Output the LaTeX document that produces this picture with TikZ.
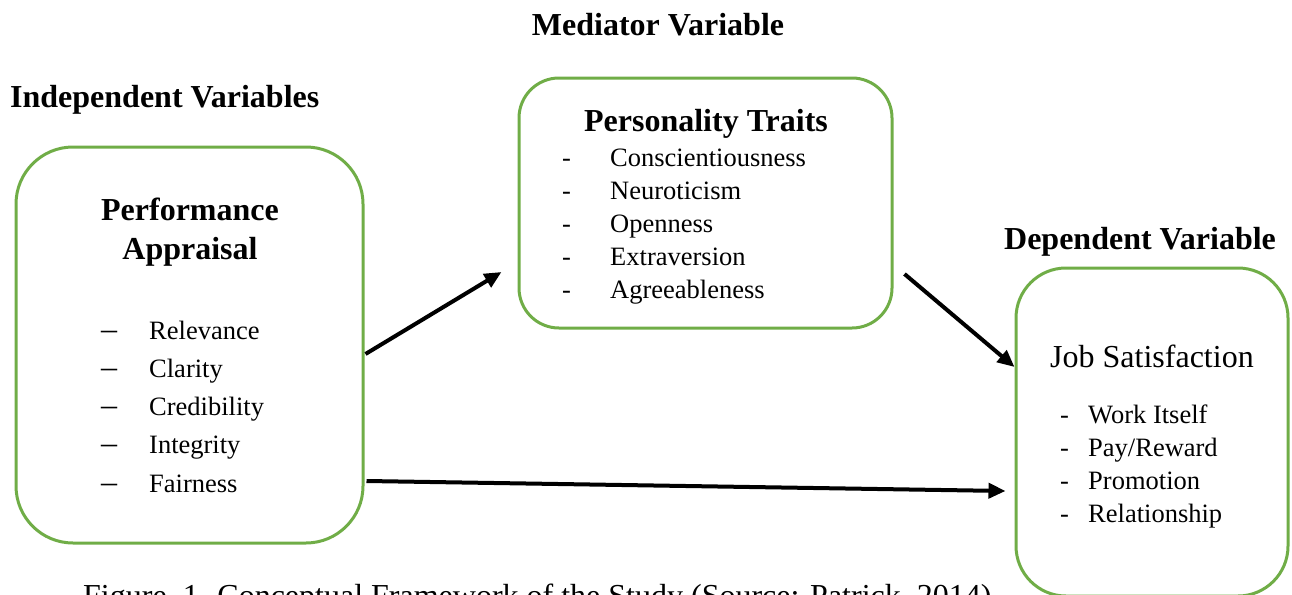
\documentclass[tikz,border=0pt]{standalone}
\usepackage{fontspec}
\setmainfont{Liberation Serif}
\usetikzlibrary{arrows.meta,calc}
\definecolor{boxgreen}{HTML}{70AD47}
\begin{document}
\begin{tikzpicture}[x=1pt,y=-1pt,
  box/.style={draw=boxgreen, line width=3pt, inner sep=0pt},
  title/.style={font=\fontsize{32}{36}\selectfont\bfseries, inner sep=0pt, anchor=base},
  item/.style={font=\fontsize{26.5}{30}\selectfont, inner sep=0pt, anchor=base west},
  bigdash/.style={font=\fontsize{32}{32}\selectfont, inner sep=0pt, anchor=base west},
  arr/.style={line width=4pt, -{Triangle[length=17pt,width=15pt]}}
]
\useasboundingbox (0,0) rectangle (1292,594);

% boxes
\node[box, rounded corners=57pt, minimum width=347pt, minimum height=396pt] (pa) at (189.5,345) {};
\node[box, rounded corners=40pt, minimum width=373pt, minimum height=250pt] (pt) at (705.5,203) {};
\node[box, rounded corners=50pt, minimum width=272pt, minimum height=328pt] (js) at (1152,432) {};

% headings
\node[title] (medh) at (658,36) {Mediator Variable};
\node[title, anchor=base west] (indh) at (10,107) {Independent Variables};
\node[title] (deph) at (1140,249) {Dependent Variable};

% box 1
\node[title] (pa1) at (190,220) {Performance};
\node[title] (pa2) at (190,259) {Appraisal};
\foreach \t [count=\i] in {Relevance,Clarity,Credibility,Integrity,Fairness}{
  \node[bigdash] (pad\i) at (101,339+38.25*\i-38.25) {–};
  \node[item] (pai\i) at (149,339+38.25*\i-38.25) {\t};
}

% box 2
\node[title] (pth) at (706,131) {Personality Traits};
\foreach \t [count=\i] in {Conscientiousness,Neuroticism,Openness,Extraversion,Agreeableness}{
  \node[item] (ptd\i) at (562,166+33*\i-33) {-};
  \node[item] (pti\i) at (610,166+33*\i-33) {\t};
}

% box 3
\node[font=\fontsize{32}{36}\selectfont, inner sep=0pt, anchor=base west] (jsh) at (1050,367) {Job Satisfaction};
\foreach \t [count=\i] in {Work Itself,Pay/Reward,Promotion,Relationship}{
  \node[item] (jsd\i) at (1060,423+33*\i-33) {-};
  \node[item] (jsi\i) at (1088,423+33*\i-33) {\t};
}

% caption
\node[font=\fontsize{32}{36}\selectfont, inner sep=0pt, anchor=base west] (cap) at (83,606) {Figure\ \ 1. Conceptual Framework of the Study (Source: Patrick, 2014)};

% arrows
\coordinate (a1e) at ($(pt.west)+(-16,69)$);
\coordinate (a2s) at ($(pt.east)+(11,71)$);
\draw[arr] ($(pa.east)+(1,9)$) -- (a1e);
\draw[arr] (a2s) -- ($(js.west)+(0,-65)$);
\draw[arr] ($(pa.east)+(2,136)$) -- ($(js.west)+(-9,59)$);
\end{tikzpicture}
\end{document}
